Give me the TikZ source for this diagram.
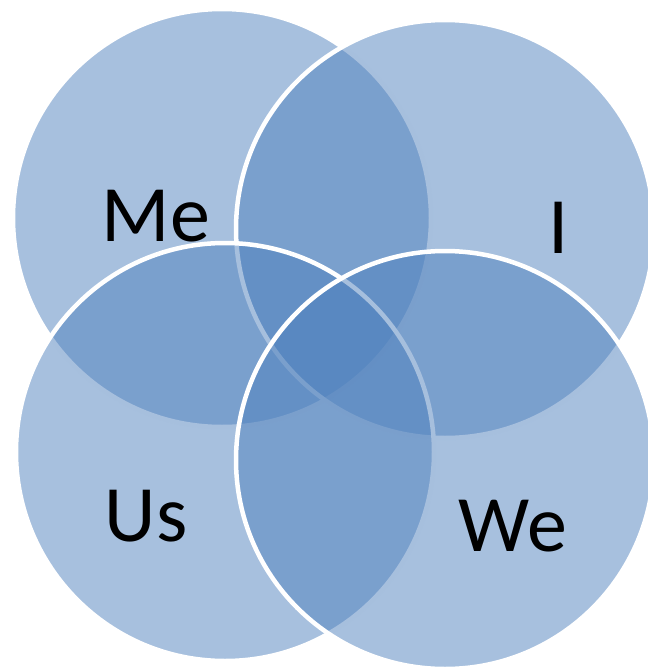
\documentclass[tikz,border=0pt]{standalone}
\usepackage{fontspec}
\setmainfont{Carlito}
\usetikzlibrary{positioning}
\definecolor{vennblue}{RGB}{79,129,189}

\begin{document}
\begin{tikzpicture}[
    x=1pt,y=-1pt,
    venn/.style={circle,draw=white,line width=4.5pt,fill=vennblue,fill opacity=0.5,minimum size=418pt,inner sep=0pt},
    lbl/.style={anchor=base,text=black,inner sep=0pt,font=\fontsize{80}{96}\selectfont}
]
\useasboundingbox (0,0) rectangle (648,667);

% circles, drawn in this order
\node[venn] (me) at (222,218) {};
\node[venn] (i) at (445,229) {};
\node[venn] (us) at (225,452) {};
\node[venn] (we) at (445,460) {};

% labels
\node[lbl] (melbl) at (156,241) {Me};
\node[lbl] (ilbl) at (559,253) {I};
\node[lbl] (uslbl) at (146,541) {Us};
\node[lbl] (welbl) at (513,551) {We};
\end{tikzpicture}
\end{document}
